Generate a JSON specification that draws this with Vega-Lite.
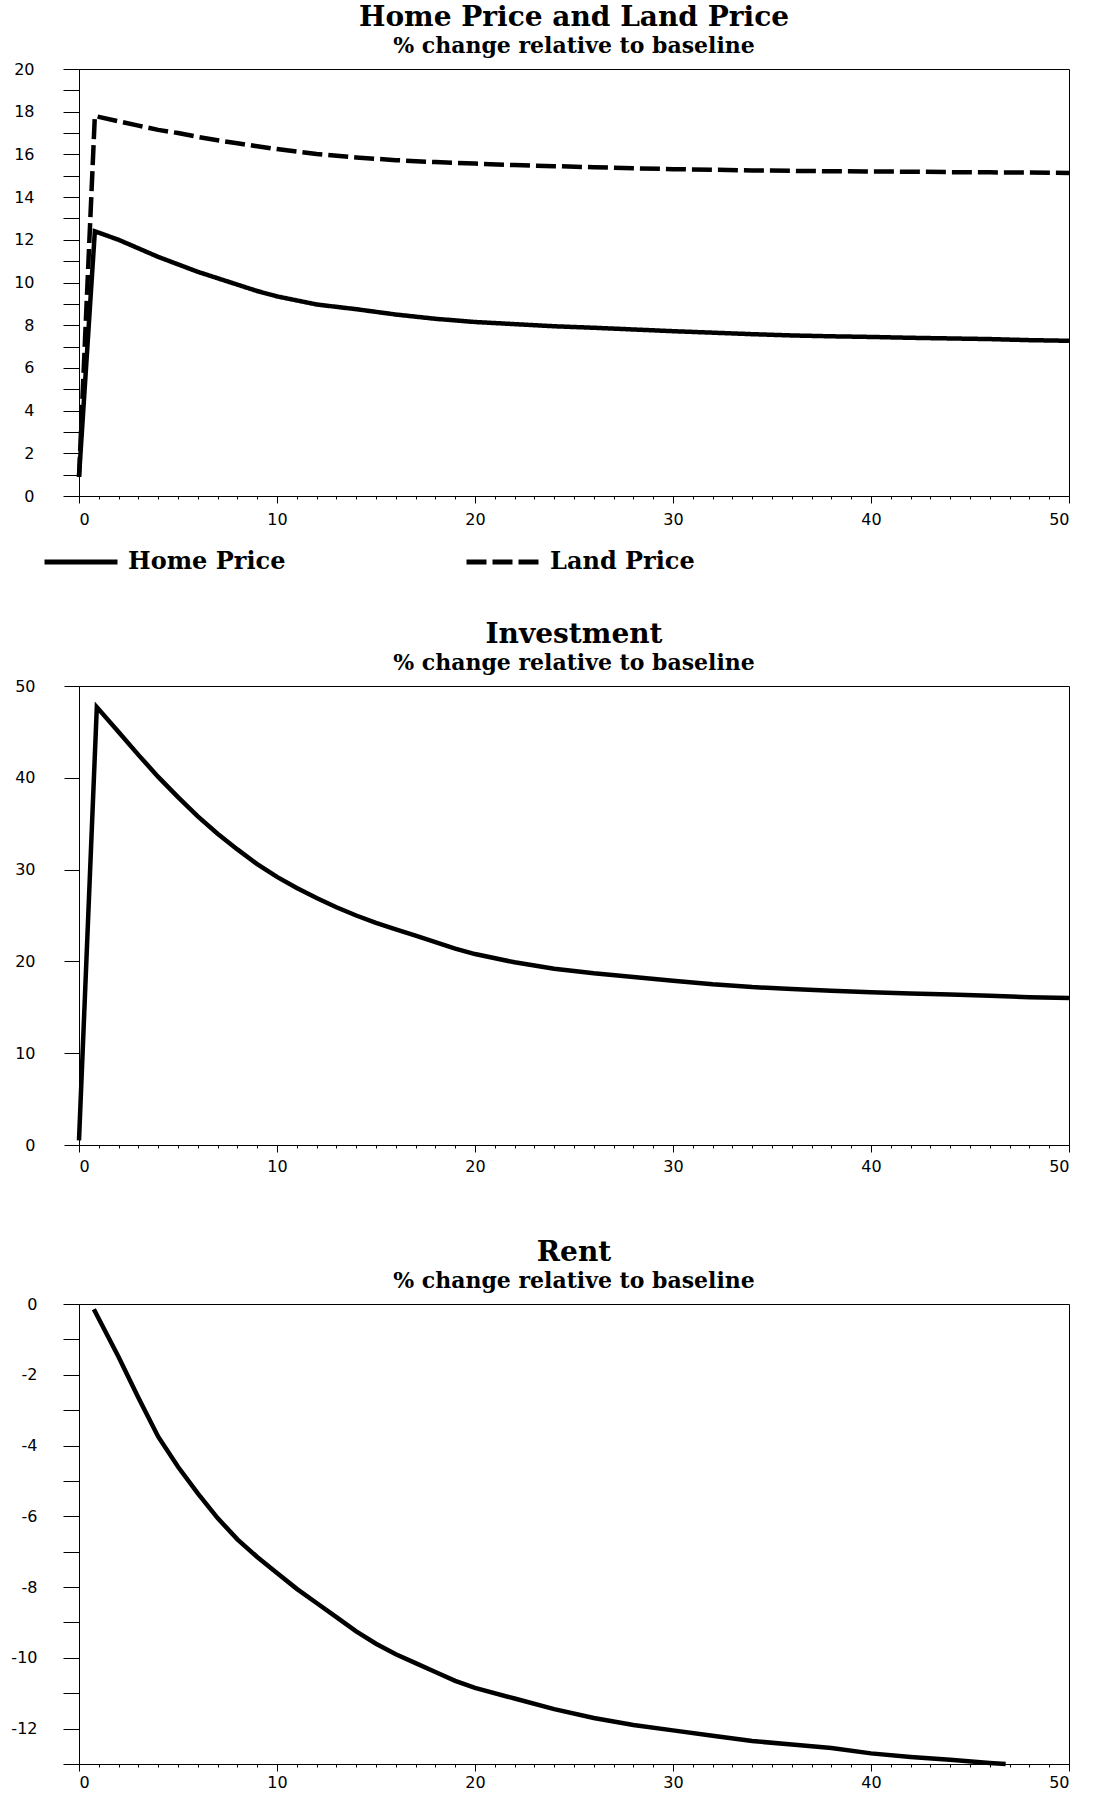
{
  "$schema": "https://vega.github.io/schema/vega-lite/v6.json",
  "background": "white",
  "padding": {"left": 10, "top": 3, "right": 8, "bottom": 0},
  "config": {
    "view": {"stroke": "black", "strokeWidth": 1},
    "axis": {"domainColor": "black", "domainWidth": 1, "tickColor": "black", "tickWidth": 1, "labelFont": "DejaVu Sans", "labelFontSize": 16, "labelColor": "black", "grid": false, "title": null, "labelOverlap": false},
    "title": {"font": "DejaVu Serif", "fontSize": 28, "fontWeight": "bold", "color": "black", "subtitleFont": "DejaVu Serif", "subtitleFontSize": 22, "subtitleFontWeight": "bold", "subtitleColor": "black", "subtitlePadding": 4, "offset": 0, "anchor": "middle"}
  },
  "datasets": {
    "prices": [
      {"t": 0, "value": 0.9, "series": "Home Price"},
      {"t": 0.8, "value": 12.4, "series": "Home Price"},
      {"t": 2, "value": 12.0, "series": "Home Price"},
      {"t": 3, "value": 11.6, "series": "Home Price"},
      {"t": 4, "value": 11.2, "series": "Home Price"},
      {"t": 5, "value": 10.85, "series": "Home Price"},
      {"t": 6, "value": 10.5, "series": "Home Price"},
      {"t": 7, "value": 10.2, "series": "Home Price"},
      {"t": 8, "value": 9.9, "series": "Home Price"},
      {"t": 9, "value": 9.6, "series": "Home Price"},
      {"t": 10, "value": 9.35, "series": "Home Price"},
      {"t": 12, "value": 8.97, "series": "Home Price"},
      {"t": 14, "value": 8.75, "series": "Home Price"},
      {"t": 16, "value": 8.5, "series": "Home Price"},
      {"t": 18, "value": 8.3, "series": "Home Price"},
      {"t": 20, "value": 8.15, "series": "Home Price"},
      {"t": 22, "value": 8.05, "series": "Home Price"},
      {"t": 24, "value": 7.95, "series": "Home Price"},
      {"t": 26, "value": 7.88, "series": "Home Price"},
      {"t": 28, "value": 7.8, "series": "Home Price"},
      {"t": 30, "value": 7.72, "series": "Home Price"},
      {"t": 32, "value": 7.65, "series": "Home Price"},
      {"t": 34, "value": 7.58, "series": "Home Price"},
      {"t": 36, "value": 7.52, "series": "Home Price"},
      {"t": 38, "value": 7.48, "series": "Home Price"},
      {"t": 40, "value": 7.45, "series": "Home Price"},
      {"t": 42, "value": 7.41, "series": "Home Price"},
      {"t": 44, "value": 7.38, "series": "Home Price"},
      {"t": 46, "value": 7.35, "series": "Home Price"},
      {"t": 48, "value": 7.3, "series": "Home Price"},
      {"t": 50, "value": 7.27, "series": "Home Price"},
      {"t": 0, "value": 0.9, "series": "Land Price"},
      {"t": 0.8, "value": 17.8, "series": "Land Price"},
      {"t": 2, "value": 17.55, "series": "Land Price"},
      {"t": 3, "value": 17.35, "series": "Land Price"},
      {"t": 4, "value": 17.15, "series": "Land Price"},
      {"t": 5, "value": 17.0, "series": "Land Price"},
      {"t": 6, "value": 16.82, "series": "Land Price"},
      {"t": 7, "value": 16.66, "series": "Land Price"},
      {"t": 8, "value": 16.52, "series": "Land Price"},
      {"t": 9, "value": 16.38, "series": "Land Price"},
      {"t": 10, "value": 16.25, "series": "Land Price"},
      {"t": 12, "value": 16.02, "series": "Land Price"},
      {"t": 14, "value": 15.86, "series": "Land Price"},
      {"t": 16, "value": 15.73, "series": "Land Price"},
      {"t": 18, "value": 15.64, "series": "Land Price"},
      {"t": 20, "value": 15.57, "series": "Land Price"},
      {"t": 22, "value": 15.5, "series": "Land Price"},
      {"t": 24, "value": 15.45, "series": "Land Price"},
      {"t": 26, "value": 15.4, "series": "Land Price"},
      {"t": 28, "value": 15.35, "series": "Land Price"},
      {"t": 30, "value": 15.31, "series": "Land Price"},
      {"t": 32, "value": 15.28, "series": "Land Price"},
      {"t": 34, "value": 15.25, "series": "Land Price"},
      {"t": 36, "value": 15.23, "series": "Land Price"},
      {"t": 38, "value": 15.21, "series": "Land Price"},
      {"t": 40, "value": 15.2, "series": "Land Price"},
      {"t": 42, "value": 15.19, "series": "Land Price"},
      {"t": 44, "value": 15.17, "series": "Land Price"},
      {"t": 46, "value": 15.16, "series": "Land Price"},
      {"t": 48, "value": 15.15, "series": "Land Price"},
      {"t": 50, "value": 15.13, "series": "Land Price"}
    ],
    "investment": [
      {"t": 0, "value": 0.5}, {"t": 0.9, "value": 47.7}, {"t": 2, "value": 45.0}, {"t": 3, "value": 42.5},
      {"t": 4, "value": 40.1}, {"t": 5, "value": 37.9}, {"t": 6, "value": 35.8}, {"t": 7, "value": 33.9},
      {"t": 8, "value": 32.2}, {"t": 9, "value": 30.6}, {"t": 10, "value": 29.2}, {"t": 11, "value": 28.0},
      {"t": 12, "value": 26.9}, {"t": 13, "value": 25.9}, {"t": 14, "value": 25.0}, {"t": 15, "value": 24.2},
      {"t": 16, "value": 23.5}, {"t": 17, "value": 22.8}, {"t": 18, "value": 22.1}, {"t": 19, "value": 21.4},
      {"t": 20, "value": 20.8}, {"t": 22, "value": 19.9}, {"t": 24, "value": 19.2}, {"t": 26, "value": 18.7},
      {"t": 28, "value": 18.3}, {"t": 30, "value": 17.9}, {"t": 32, "value": 17.5}, {"t": 34, "value": 17.2},
      {"t": 36, "value": 17.0}, {"t": 38, "value": 16.8}, {"t": 40, "value": 16.65}, {"t": 42, "value": 16.5},
      {"t": 44, "value": 16.4}, {"t": 46, "value": 16.25}, {"t": 48, "value": 16.1}, {"t": 50, "value": 16.0}
    ],
    "rent": [
      {"t": 0.75, "value": -0.15}, {"t": 2, "value": -1.5}, {"t": 3, "value": -2.65}, {"t": 4, "value": -3.75},
      {"t": 5, "value": -4.6}, {"t": 6, "value": -5.35}, {"t": 7, "value": -6.05}, {"t": 8, "value": -6.65},
      {"t": 9, "value": -7.15}, {"t": 10, "value": -7.6}, {"t": 11, "value": -8.05}, {"t": 12, "value": -8.45},
      {"t": 13, "value": -8.85}, {"t": 14, "value": -9.25}, {"t": 15, "value": -9.6}, {"t": 16, "value": -9.9},
      {"t": 17, "value": -10.15}, {"t": 18, "value": -10.4}, {"t": 19, "value": -10.65}, {"t": 20, "value": -10.85},
      {"t": 22, "value": -11.15}, {"t": 24, "value": -11.45}, {"t": 26, "value": -11.7}, {"t": 28, "value": -11.9},
      {"t": 30, "value": -12.05}, {"t": 32, "value": -12.2}, {"t": 34, "value": -12.35}, {"t": 36, "value": -12.45},
      {"t": 38, "value": -12.55}, {"t": 40, "value": -12.7}, {"t": 42, "value": -12.8}, {"t": 44, "value": -12.88},
      {"t": 46, "value": -12.97}, {"t": 46.8, "value": -13.0}
    ]
  },
  "vconcat": [
    {
      "spacing": 92,
      "vconcat": [
        {
          "width": 990,
          "height": 427,
          "title": {"text": "Home Price and Land Price", "subtitle": "% change relative to baseline"},
          "data": {"name": "prices"},
          "mark": {"type": "line", "color": "black", "strokeWidth": 4.5},
          "encoding": {
            "x": {"field": "t", "type": "quantitative", "scale": {"domain": [0, 50], "nice": false},
              "axis": {"values": [0,1,2,3,4,5,6,7,8,9,10,11,12,13,14,15,16,17,18,19,20,21,22,23,24,25,26,27,28,29,30,31,32,33,34,35,36,37,38,39,40,41,42,43,44,45,46,47,48,49,50],
                "labelExpr": "datum.value % 10 === 0 ? datum.label : ''",
                "tickSize": {"condition": {"test": "datum.value % 10 === 0", "value": 7}, "value": 3},
                "labelPadding": 8}},
            "y": {"field": "value", "type": "quantitative", "scale": {"domain": [0, 20], "nice": false},
              "axis": {"values": [0,1,2,3,4,5,6,7,8,9,10,11,12,13,14,15,16,17,18,19,20],
                "labelExpr": "datum.value % 2 === 0 ? datum.label : ''",
                "tickSize": 16, "labelPadding": 29}},
            "strokeDash": {"field": "series", "type": "nominal",
              "scale": {"domain": ["Home Price", "Land Price"], "range": [[1, 0], [20, 6]]},
              "legend": {"orient": "none", "legendX": -37, "legendY": 454, "direction": "horizontal", "columns": 2, "title": null,
                "symbolType": "stroke", "symbolSize": 5329, "symbolStrokeWidth": 5, "symbolStrokeColor": "black",
                "labelFont": "DejaVu Serif", "labelFontWeight": "bold", "labelFontSize": 24, "labelColor": "black",
                "labelOffset": 8, "columnPadding": 170}}
          }
        },
        {
          "width": 990,
          "height": 459,
          "title": {"text": "Investment", "subtitle": "% change relative to baseline"},
          "data": {"name": "investment"},
          "mark": {"type": "line", "color": "black", "strokeWidth": 4.5},
          "encoding": {
            "x": {"field": "t", "type": "quantitative", "scale": {"domain": [0, 50], "nice": false},
              "axis": {"values": [0,1,2,3,4,5,6,7,8,9,10,11,12,13,14,15,16,17,18,19,20,21,22,23,24,25,26,27,28,29,30,31,32,33,34,35,36,37,38,39,40,41,42,43,44,45,46,47,48,49,50],
                "labelExpr": "datum.value % 10 === 0 ? datum.label : ''",
                "tickSize": {"condition": {"test": "datum.value % 10 === 0", "value": 7}, "value": 3},
                "labelPadding": 6}},
            "y": {"field": "value", "type": "quantitative", "scale": {"domain": [0, 50], "nice": false},
              "axis": {"values": [0, 10, 20, 30, 40, 50], "tickSize": 15, "labelPadding": 29}}
          }
        }
      ]
    },
    {
      "width": 990,
      "height": 460,
      "title": {"text": "Rent", "subtitle": "% change relative to baseline"},
      "data": {"name": "rent"},
      "mark": {"type": "line", "color": "black", "strokeWidth": 4.5},
      "encoding": {
        "x": {"field": "t", "type": "quantitative", "scale": {"domain": [0, 50], "nice": false},
          "axis": {"values": [0,1,2,3,4,5,6,7,8,9,10,11,12,13,14,15,16,17,18,19,20,21,22,23,24,25,26,27,28,29,30,31,32,33,34,35,36,37,38,39,40,41,42,43,44,45,46,47,48,49,50],
            "labelExpr": "datum.value % 10 === 0 ? datum.label : ''",
            "tickSize": {"condition": {"test": "datum.value % 10 === 0", "value": 7}, "value": 3},
            "labelPadding": 3}},
        "y": {"field": "value", "type": "quantitative", "scale": {"domain": [-13, 0], "nice": false},
          "axis": {"values": [-13,-12,-11,-10,-9,-8,-7,-6,-5,-4,-3,-2,-1,0],
            "labelExpr": "datum.value % 2 === 0 ? '' + datum.value : ''",
            "tickSize": 16, "labelPadding": 26}}
      }
    }
  ],
  "spacing": 63
}
